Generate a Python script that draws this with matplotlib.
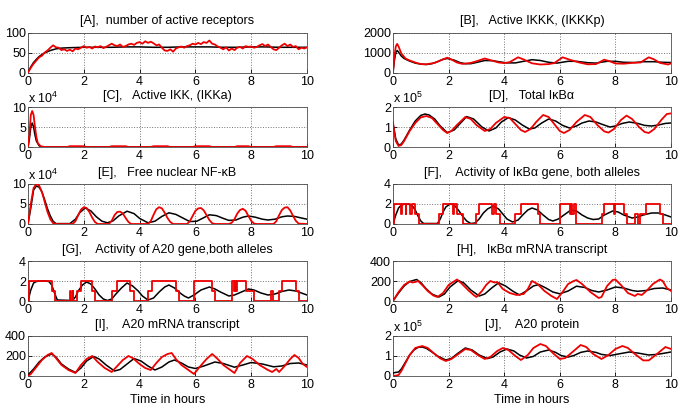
"""
plot.py - NF-kB signalling model, deterministic (black) vs stochastic (red) runs
"""

import numpy as np
import matplotlib
matplotlib.use("Agg")
import matplotlib.pyplot as plt
from matplotlib import rcParams

rcParams['font.family'] = ['Liberation Sans', 'DejaVu Sans']
rcParams['mathtext.fontset'] = 'custom'
rcParams['mathtext.rm'] = 'Liberation Sans'
rcParams['mathtext.it'] = 'Liberation Sans:italic'

# ---------------- [A] active receptors ----------------
a_black_t = [0, 0.1, 0.2, 0.3, 0.4, 0.5, 0.6, 0.8, 1.0, 1.2, 1.5, 2, 2.5, 3, 3.5, 4, 4.5, 5,
             5.5, 6, 6.5, 7, 7.5, 8, 8.5, 9, 9.5, 10]
a_black_y = [0, 14, 25, 33, 40, 45, 49, 55, 59, 61, 62, 63, 63, 63, 64, 64, 63, 63,
             64, 64, 64, 63, 63, 64, 64, 63, 63, 63]
a_red_t = [i / 10 for i in range(101)]
a_red_y = [0, 12, 22, 30, 38, 42, 50, 55, 62, 68,
           63, 62, 56, 58, 54, 57, 53, 60, 58, 62,
           66, 62, 64, 60, 65, 63, 66, 61, 64, 68,
           72, 68, 66, 70, 64, 66, 70, 72, 69, 74,
           76, 72, 78, 74, 77, 73, 68, 70, 62, 55,
           54, 58, 52, 60, 63, 65, 62, 66, 68, 72,
           70, 74, 71, 76, 74, 80, 72, 70, 65, 62,
           58, 63, 55, 60, 56, 62, 64, 60, 66, 64,
           65, 62, 64, 68, 71, 66, 70, 64, 58, 56,
           62, 68, 72, 66, 70, 64, 66, 58, 62, 60,
           63]

# ---------------- [B] active IKKK ----------------
b_black_t = [0, 0.05, 0.1, 0.15, 0.2, 0.3, 0.4, 0.6, 0.8, 1.0, 1.2, 1.4, 1.6, 1.8, 1.95, 2.2,
             2.4, 2.6, 2.8, 3.0, 3.3, 3.6, 3.8, 4.1, 4.4, 4.7, 5.0, 5.3, 5.6, 5.9, 6.3, 6.6,
             7.0, 7.3, 7.7, 8.0, 8.3, 8.7, 9.0, 9.4, 9.7, 10]
b_black_y = [0, 600, 1000, 1100, 1020, 820, 700, 570, 470, 420, 400, 440, 540, 660, 700, 620,
             500, 440, 440, 500, 600, 590, 540, 480, 480, 560, 640, 600, 510, 470, 560, 560,
             490, 470, 560, 560, 510, 500, 540, 540, 510, 500]
b_red_t = [0, 0.05, 0.1, 0.15, 0.2, 0.3, 0.45, 0.6, 0.8, 1.0, 1.2, 1.5, 1.7, 1.95, 2.1, 2.3,
           2.5, 2.8, 3.0, 3.3, 3.5, 3.8, 4.0, 4.2, 4.5, 4.7, 5.0, 5.3, 5.6, 5.8, 6.1, 6.4,
           6.7, 7.0, 7.3, 7.6, 7.8, 8.0, 8.3, 8.6, 8.9, 9.2, 9.4, 9.6, 9.9, 10]
b_red_y = [0, 800, 1300, 1430, 1300, 950, 700, 600, 500, 420, 410, 480, 600, 740, 650, 500,
           430, 480, 560, 700, 620, 500, 470, 520, 760, 650, 460, 400, 420, 470, 760, 620,
           500, 410, 420, 640, 560, 450, 440, 480, 500, 760, 650, 480, 400, 460]

# ---------------- [C] active IKK (x 10^4) ----------------
c_black_t = [0, 0.05, 0.1, 0.15, 0.2, 0.25, 0.3, 0.4, 0.5, 10]
c_black_y = [0, 2, 5, 6, 5, 3, 1.5, 0.3, 0, 0]
c_red_t = [0, 0.05, 0.1, 0.15, 0.2, 0.25, 0.3, 0.35, 0.45, 0.6, 1.4, 1.5, 2.0, 2.1, 2.9,
           3.0, 3.5, 3.6, 4.4, 4.5, 5.0, 5.1, 5.9, 6.0, 6.5, 6.6, 7.4, 7.5, 7.9, 8.0, 8.8,
           8.9, 9.4, 9.5, 10]
c_red_y = [0, 3, 8, 9, 8, 5, 2.5, 1, 0.2, 0, 0, 0.2, 0.2, 0, 0,
           0.2, 0.2, 0, 0, 0.2, 0.2, 0, 0, 0.2, 0.2, 0, 0, 0.2, 0.2, 0, 0,
           0.2, 0.2, 0, 0]

# ---------------- [D] total IkBa (x 10^5) ----------------
d_black_t = [0, 0.05, 0.1, 0.2, 0.3, 0.4, 0.6, 0.8, 1.0, 1.15, 1.3, 1.5, 1.7, 1.95, 2.2, 2.4,
             2.65, 2.9, 3.2, 3.45, 3.7, 3.9, 4.15, 4.4, 4.65, 4.9, 5.1, 5.35, 5.6, 5.85, 6.1,
             6.35, 6.6, 6.8, 7.05, 7.3, 7.55, 7.8, 8.0, 8.25, 8.5, 8.8, 9.05, 9.3, 9.55, 9.8, 10]
d_black_y = [1.2, 0.8, 0.4, 0.1, 0.15, 0.35, 0.85, 1.3, 1.58, 1.65, 1.6, 1.4, 1.05, 0.72, 0.85,
             1.15, 1.52, 1.4, 1.0, 0.8, 0.95, 1.25, 1.47, 1.35, 1.1, 0.9, 0.95, 1.2, 1.4, 1.3,
             1.08, 0.95, 1.05, 1.2, 1.3, 1.25, 1.12, 1.0, 1.05, 1.18, 1.25, 1.18, 1.08, 1.05,
             1.1, 1.18, 1.2]
d_red_t = [0, 0.05, 0.1, 0.2, 0.3, 0.4, 0.6, 0.8, 1.0, 1.2, 1.4, 1.6, 1.8, 1.95, 2.1, 2.3,
           2.6, 2.8, 3.0, 3.3, 3.5, 3.7, 4.0, 4.2, 4.4, 4.6, 4.75, 4.95, 5.15, 5.4, 5.6, 5.8,
           6.0, 6.15, 6.35, 6.6, 6.9, 7.1, 7.35, 7.6, 7.75, 7.95, 8.2, 8.4, 8.6, 8.85, 9.05,
           9.2, 9.4, 9.65, 9.85, 10]
d_red_y = [1.2, 0.7, 0.3, 0.05, 0.1, 0.3, 0.8, 1.2, 1.48, 1.55, 1.45, 1.15, 0.85, 0.7, 0.8,
           1.1, 1.5, 1.4, 1.1, 0.8, 0.9, 1.2, 1.5, 1.45, 1.15, 0.85, 0.75, 0.9, 1.25, 1.6,
           1.5, 1.15, 0.8, 0.7, 0.85, 1.25, 1.6, 1.5, 1.1, 0.78, 0.72, 0.9, 1.35, 1.57, 1.4,
           1.0, 0.75, 0.7, 0.9, 1.35, 1.65, 1.68]

# ---------------- [E] free nuclear NF-kB (x 10^4) ----------------
e_black_t = [0, 0.1, 0.2, 0.3, 0.4, 0.5, 0.6, 0.7, 0.8, 0.9, 1.0, 1.5, 1.7, 1.85, 2.05, 2.25,
             2.45, 2.65, 2.85, 3.05, 3.25, 3.55, 3.8, 4.0, 4.3, 4.55, 4.8, 5.05, 5.3, 5.55,
             5.8, 6.05, 6.25, 6.5, 6.75, 7.0, 7.2, 7.45, 7.7, 7.9, 8.15, 8.4, 8.6, 8.85, 9.1,
             9.3, 9.55, 9.8, 10]
e_black_y = [0, 4, 8.5, 9.5, 9.2, 8, 6, 3.8, 2, 0.7, 0.1, 0.1, 1.2, 2.8, 4.0, 3.3,
             1.8, 0.7, 0.3, 0.8, 2.0, 3.2, 2.6, 1.4, 0.3, 0.7, 1.9, 2.8, 2.4, 1.5,
             0.6, 0.7, 1.4, 2.3, 2.1, 1.4, 0.9, 1.0, 1.7, 2.0, 1.7, 1.2, 1.0, 1.2, 1.8,
             2.0, 1.9, 1.5, 1.2]
e_red_t = [0, 0.1, 0.2, 0.3, 0.4, 0.5, 0.6, 0.7, 0.8, 0.9, 1.0,
           1.6, 1.7, 1.8, 1.9, 2.0, 2.1, 2.2, 2.3, 2.4, 2.5,
           2.9, 3.0, 3.1, 3.2, 3.3, 3.4, 3.5, 3.6, 3.7,
           4.3, 4.4, 4.5, 4.6, 4.7, 4.8, 4.9, 5.0, 5.1, 5.2,
           5.7, 5.8, 5.9, 6.0, 6.1, 6.2, 6.3, 6.4, 6.5, 6.6, 6.7,
           7.2, 7.3, 7.4, 7.5, 7.6, 7.7, 7.8, 7.9, 8.0, 8.1, 8.2,
           8.8, 8.9, 9.0, 9.1, 9.2, 9.3, 9.4, 9.5, 9.6, 9.7, 10]
e_red_y = [0, 5, 9, 10, 9.6, 8, 5.5, 3, 1.2, 0.2, 0,
           0, 0.7, 2.2, 3.6, 4.2, 4.0, 3.0, 1.6, 0.5, 0,
           0, 0.8, 2.2, 3.0, 3.1, 2.6, 1.5, 0.5, 0,
           0, 0.7, 2.3, 3.7, 4.2, 3.9, 2.8, 1.5, 0.5, 0,
           0, 0.7, 2.0, 3.3, 3.9, 4.0, 3.4, 2.2, 1.0, 0.2, 0,
           0, 0.3, 1.2, 2.6, 3.5, 3.8, 3.3, 2.0, 0.8, 0.1, 0,
           0, 0.7, 2.2, 3.5, 4.1, 4.2, 3.4, 2.0, 0.8, 0.1, 0]

# ---------------- [F] IkBa gene activity ----------------
f_black_t = [0, 0.1, 0.2, 0.3, 0.45, 0.6, 0.7, 0.8, 0.9, 1.0, 1.1, 1.6, 1.7, 1.8, 1.9, 2.05,
             2.2, 2.35, 2.5, 2.65, 2.8, 2.95, 3.1, 3.25, 3.4, 3.6, 3.8, 3.95, 4.1, 4.3, 4.5,
             4.7, 4.85, 5.0, 5.2, 5.4, 5.6, 5.75, 5.95, 6.15, 6.4, 6.6, 6.8, 7.0, 7.2, 7.4,
             7.6, 7.9, 8.1, 8.3, 8.6, 8.8, 9.0, 9.3, 9.55, 9.8, 10]
f_black_y = [0, 0.9, 1.6, 1.9, 2.0, 1.95, 1.8, 1.4, 0.8, 0.3, 0.05, 0.05, 0.5, 1.2, 1.7, 2.0,
             1.9, 1.4, 0.8, 0.3, 0.05, 0.1, 0.5, 1.1, 1.5, 1.8, 1.5, 1.0, 0.5, 0.2, 0.4,
             1.0, 1.4, 1.6, 1.4, 0.9, 0.45, 0.3, 0.5, 0.9, 1.4, 1.3, 0.9, 0.6, 0.45, 0.5,
             0.9, 1.3, 1.2, 0.9, 0.6, 0.7, 0.9, 1.1, 1.1, 0.9, 0.7]
f_red_t = [0, 0.05, 0.3, 0.33, 0.45, 0.48, 0.6, 0.7, 0.8, 0.95, 1.65, 1.8, 2.15, 2.18, 2.3,
           2.5, 3.0, 3.1, 3.55, 3.65, 3.72, 3.85, 4.4, 4.6, 5.2, 5.3, 6.0, 6.35, 6.4, 6.45,
           6.5, 6.6, 7.5, 7.6, 7.95, 8.0, 8.3, 8.4, 8.7, 8.8, 8.9, 9.1, 9.6, 9.7, 10]
f_red_y = [0, 2, 1, 2, 1, 2, 1, 2, 1, 0, 1, 2, 1, 2, 1,
           0, 1, 2, 1, 2, 1, 0, 1, 2, 1, 0, 2, 1, 2, 1,
           2, 0, 1, 2, 1, 2, 1, 0, 1, 0, 1, 2, 1, 0, 0]

# ---------------- [G] A20 gene activity ----------------
g_black_t = [0, 0.1, 0.2, 0.3, 0.45, 0.6, 0.75, 0.85, 0.95, 1.05, 1.6, 1.7, 1.8, 1.95, 2.1,
             2.25, 2.4, 2.55, 2.7, 2.85, 3.0, 3.15, 3.35, 3.55, 3.75, 3.95, 4.1, 4.3, 4.5,
             4.7, 4.9, 5.05, 5.25, 5.45, 5.6, 5.75, 5.95, 6.2, 6.5, 6.7, 6.9, 7.2, 7.4, 7.65,
             7.9, 8.1, 8.35, 8.6, 8.85, 9.1, 9.35, 9.6, 9.8, 10]
g_black_y = [0, 1.1, 1.8, 1.95, 2.0, 2.0, 1.95, 1.6, 0.8, 0.1, 0.05, 0.4, 1.0, 1.6, 1.9,
             1.7, 1.2, 0.6, 0.2, 0.05, 0.2, 0.7, 1.3, 1.8, 1.5, 1.0, 0.5, 0.1, 0.3,
             0.9, 1.4, 1.6, 1.3, 0.8, 0.5, 0.3, 0.6, 1.1, 1.4, 1.2, 0.9, 0.5, 0.6, 0.9,
             1.2, 1.1, 0.8, 0.6, 0.7, 0.95, 1.1, 1.0, 0.8, 0.6]
g_red_t = [0, 0.05, 0.85, 0.95, 1.5, 1.53, 1.6, 1.63, 1.75, 1.9, 2.3, 2.4, 3.0, 3.2, 3.65,
           3.8, 4.3, 4.45, 5.3, 5.4, 5.95, 6.6, 6.7, 7.3, 7.37, 7.42, 7.47, 7.5, 7.8, 8.1,
           8.7, 8.78, 9.0, 9.1, 9.6, 9.7, 10]
g_red_y = [0, 2, 1, 0, 1, 0, 1, 0, 1, 2, 1, 0, 1, 2, 1,
           0, 1, 2, 1, 0, 2, 1, 0, 2, 1, 2, 1, 2, 1, 0,
           1, 0, 1, 2, 1, 0, 0]

# ---------------- [H] IkBa mRNA ----------------
h_black_t = [0, 0.2, 0.4, 0.6, 0.85, 1.0, 1.2, 1.4, 1.65, 1.85, 2.05, 2.35, 2.55, 2.8, 3.1,
             3.3, 3.55, 3.8, 4.05, 4.3, 4.55, 4.8, 5.05, 5.25, 5.5, 5.75, 6.0, 6.3, 6.6,
             6.9, 7.15, 7.4, 7.7, 8.0, 8.3, 8.6, 8.8, 9.1, 9.4, 9.7, 10]
h_black_y = [0, 80, 150, 195, 215, 185, 120, 70, 40, 70, 140, 205, 180, 110, 50,
             70, 130, 182, 150, 100, 60, 100, 150, 165, 130, 90, 72, 100, 148,
             135, 105, 90, 110, 140, 130, 105, 97, 105, 125, 130, 110]
h_red_t = [0, 0.2, 0.4, 0.6, 0.7, 0.8, 0.9, 1.05, 1.25, 1.45, 1.6, 1.8, 2.0, 2.3, 2.45, 2.7,
           2.9, 3.0, 3.2, 3.35, 3.5, 3.65, 3.75, 3.95, 4.2, 4.45, 4.7, 4.85, 5.0, 5.2, 5.45,
           5.7, 5.9, 6.1, 6.3, 6.5, 6.6, 6.8, 7.1, 7.4, 7.5, 7.7, 7.9, 8.0, 8.2, 8.45, 8.7,
           8.8, 8.95, 9.15, 9.35, 9.6, 9.7, 9.85, 10]
h_red_y = [0, 90, 160, 195, 185, 190, 200, 160, 100, 55, 40, 80, 160, 215, 180, 110,
           60, 40, 100, 160, 200, 185, 190, 120, 80, 60, 70, 120, 200, 170, 100,
           50, 20, 90, 170, 200, 210, 170, 90, 30, 40, 150, 210, 215, 160, 80, 50,
           70, 60, 110, 170, 215, 200, 130, 100]

# ---------------- [I] A20 mRNA ----------------
i_black_t = [0, 0.2, 0.4, 0.6, 0.85, 1.0, 1.2, 1.45, 1.7, 1.9, 2.1, 2.35, 2.55, 2.8, 3.1,
             3.3, 3.55, 3.8, 4.05, 4.3, 4.55, 4.8, 5.05, 5.25, 5.5, 5.75, 6.0, 6.3, 6.7,
             7.0, 7.4, 7.7, 8.0, 8.4, 8.8, 9.1, 9.4, 9.7, 10]
i_black_y = [10, 70, 140, 190, 220, 190, 120, 70, 35, 80, 150, 195, 170, 110, 50,
             65, 120, 175, 150, 100, 60, 90, 140, 160, 130, 90, 75, 100, 140,
             125, 88, 110, 135, 120, 92, 100, 125, 130, 110]
i_red_t = [0, 0.1, 0.3, 0.5, 0.7, 0.85, 1.0, 1.2, 1.45, 1.7, 1.9, 2.1, 2.3, 2.5, 2.75,
           3.0, 3.2, 3.4, 3.6, 3.75, 4.0, 4.2, 4.4, 4.6, 4.8, 5.0, 5.15, 5.3, 5.5, 5.75,
           5.95, 6.15, 6.4, 6.6, 6.8, 7.0, 7.2, 7.4, 7.6, 7.85, 8.05, 8.3, 8.6, 8.75, 8.9,
           9.0, 9.2, 9.4, 9.55, 9.7, 9.85, 10]
i_red_y = [0, 20, 90, 160, 210, 230, 180, 110, 60, 30, 110, 170, 200, 140, 80,
           40, 100, 160, 200, 180, 120, 80, 60, 130, 190, 220, 230, 170, 110, 60,
           20, 90, 170, 220, 170, 110, 70, 30, 130, 200, 170, 110, 60, 40, 70,
           40, 100, 170, 210, 180, 120, 90]

# ---------------- [J] A20 protein (x 10^5) ----------------
j_black_t = [0, 0.1, 0.2, 0.3, 0.45, 0.6, 0.75, 0.9, 1.05, 1.2, 1.4, 1.6, 1.9, 2.1, 2.3,
             2.6, 2.85, 3.1, 3.4, 3.6, 3.85, 4.1, 4.35, 4.55, 4.8, 5.05, 5.3, 5.6, 5.85,
             6.05, 6.3, 6.5, 6.75, 7.0, 7.3, 7.5, 7.8, 8.1, 8.5, 8.8, 9.2, 9.5, 9.8, 10]
j_black_y = [0.15, 0.18, 0.2, 0.35, 0.7, 1.05, 1.3, 1.43, 1.45, 1.38, 1.2, 1.0, 0.8, 0.88,
             1.1, 1.4, 1.3, 1.05, 0.87, 0.95, 1.2, 1.35, 1.25, 1.05, 0.9, 0.98, 1.2, 1.3,
             1.18, 1.02, 0.95, 1.02, 1.18, 1.25, 1.18, 1.08, 1.02, 1.1, 1.2, 1.15, 1.05,
             1.08, 1.15, 1.2]
j_red_t = [0, 0.1, 0.2, 0.3, 0.45, 0.6, 0.8, 1.05, 1.25, 1.5, 1.7, 1.9, 2.1, 2.35, 2.6,
           2.8, 3.05, 3.3, 3.5, 3.75, 3.95, 4.15, 4.4, 4.6, 4.85, 5.05, 5.3, 5.5, 5.75,
           6.0, 6.2, 6.5, 6.75, 6.95, 7.2, 7.5, 7.75, 8.0, 8.25, 8.45, 8.7, 9.0, 9.2, 9.45,
           9.8, 10]
j_red_y = [0.0, 0.02, 0.05, 0.25, 0.65, 1.05, 1.4, 1.5, 1.4, 1.1, 0.88, 0.75, 0.85, 1.1,
           1.35, 1.3, 1.05, 0.85, 0.95, 1.25, 1.4, 1.3, 1.0, 0.8, 1.05, 1.4, 1.6, 1.5,
           1.15, 0.85, 0.9, 1.25, 1.55, 1.45, 1.1, 0.85, 1.05, 1.35, 1.5, 1.4, 1.1, 0.78,
           0.78, 1.05, 1.45, 1.35]

PANELS = [
    # title, black, red, y-ticks, exponent, step-style red
    ("[A],  number of active receptors", (a_black_t, a_black_y), (a_red_t, a_red_y),
     [0, 50, 100], None, False),
    ("[B],   Active IKKK, (IKKKp)", (b_black_t, b_black_y), (b_red_t, b_red_y),
     [0, 1000, 2000], None, False),
    ("[C],   Active IKK, (IKKa)", (c_black_t, c_black_y), (c_red_t, c_red_y),
     [0, 5, 10], 4, False),
    ("[D],   Total I\u03baB\u03b1", (d_black_t, d_black_y), (d_red_t, d_red_y),
     [0, 1, 2], 5, False),
    ("[E],   Free nuclear NF-\u03baB", (e_black_t, e_black_y), (e_red_t, e_red_y),
     [0, 5, 10], 4, False),
    ("[F],    Activity of I\u03baB\u03b1 gene, both alleles", (f_black_t, f_black_y),
     (f_red_t, f_red_y), [0, 2, 4], None, True),
    ("[G],    Activity of A20 gene,both alleles", (g_black_t, g_black_y),
     (g_red_t, g_red_y), [0, 2, 4], None, True),
    ("[H],   I\u03baB\u03b1 mRNA transcript", (h_black_t, h_black_y), (h_red_t, h_red_y),
     [0, 200, 400], None, False),
    ("[I],    A20 mRNA transcript", (i_black_t, i_black_y), (i_red_t, i_red_y),
     [0, 200, 400], None, False),
    ("[J],    A20 protein", (j_black_t, j_black_y), (j_red_t, j_red_y),
     [0, 1, 2], 5, False),
]

FS = 9


def draw_panel(ax, title, black, red, yticks, expo, steps, last_row):
    """one MATLAB-looking subplot"""
    ax.plot(black[0], black[1], color='black', lw=1.1, zorder=3)
    if steps:
        ax.plot(red[0], red[1], color='#ee0000', lw=1.3, drawstyle='steps-post', zorder=4)
    else:
        ax.plot(red[0], red[1], color='#ee0000', lw=1.3, zorder=4)

    ax.set_xlim(0, 10)
    ax.set_ylim(yticks[0], yticks[-1])
    ax.set_xticks(np.arange(0, 11, 2))
    ax.set_yticks(yticks)
    ax.tick_params(direction='in', length=3, width=0.6, labelsize=FS)
    ax.tick_params(axis='x', pad=2.5)
    ax.tick_params(axis='y', pad=1.5)
    ax.grid(True, linestyle=':', color='0.45', linewidth=0.7)
    for sp in ax.spines.values():
        sp.set_linewidth(0.6)
        sp.set_color('0.3')
    ax.set_title(title, fontsize=FS, pad=6)
    if expo is not None:
        ax.text(0.0, 1.02, r'x 10$^{%d}$' % expo, transform=ax.transAxes,
                fontsize=FS, ha='left', va='bottom')
    if last_row:
        ax.set_xlabel("Time in hours", fontsize=FS, labelpad=1.5)


def main():
    W, H = 685, 413
    fig = plt.figure(figsize=(W / 100, H / 100), dpi=100)
    lefts = [28, 393]
    widths = [279, 278]
    tops = [32.5, 107, 184, 261, 336]
    ax_h = 40
    for k, (title, black, red, yticks, expo, steps) in enumerate(PANELS):
        row, col = divmod(k, 2)
        rect = [lefts[col] / W, (H - tops[row] - ax_h) / H, widths[col] / W, ax_h / H]
        ax = fig.add_axes(rect)
        draw_panel(ax, title, black, red, yticks, expo, steps, row == 4)
    fig.savefig("out.png", dpi=100)


if __name__ == "__main__":
    main()
